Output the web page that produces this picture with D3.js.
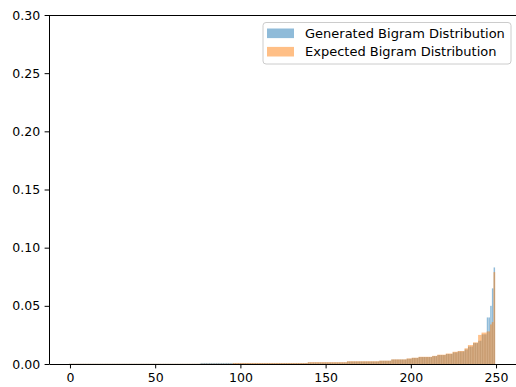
<!DOCTYPE html>
<html lang="en">
<head>
  <meta charset="UTF-8">
  <title>Bigram Distribution</title>
  <script src="https://d3js.org/d3.v7.min.js"></script>
  <style>
    body { margin: 0; background: #fff; }
    text { font-family: "DejaVu Sans", sans-serif; fill: #000; }
    .tick text { font-size: 12.5px; }
    .legend text { font-size: 13px; }
  </style>
</head>
<body>
  <svg id="chart" width="516" height="387"></svg>
  <script>
    // bar index 0..249 (sorted, so most are ~0)
    const generated = [
      0.0002, 0.0002, 0.0002, 0.0002, 0.0002, 0.0002, 0.0002, 0.0002, 0.0002, 0.0002,
      0.0002, 0.0002, 0.0002, 0.0002, 0.0002, 0.0002, 0.0002, 0.0002, 0.0002, 0.0002,
      0.0002, 0.0002, 0.0002, 0.0002, 0.0002, 0.0002, 0.0002, 0.0002, 0.0002, 0.0002,
      0.0002, 0.0002, 0.0002, 0.0002, 0.0002, 0.0002, 0.0002, 0.0002, 0.0002, 0.0002,
      0.0002, 0.0002, 0.0002, 0.0002, 0.0002, 0.0002, 0.0002, 0.0002, 0.0002, 0.0002,
      0.0002, 0.0002, 0.0002, 0.0002, 0.0002, 0.0002, 0.0002, 0.0002, 0.0002, 0.0002,
      0.0002, 0.0002, 0.0002, 0.0002, 0.0002, 0.0002, 0.0002, 0.0002, 0.0002, 0.0002,
      0.0002, 0.0002, 0.0002, 0.0002, 0.0002, 0.0002, 0.0002, 0.0009, 0.0009, 0.0009,
      0.0009, 0.0009, 0.0009, 0.0009, 0.0009, 0.0009, 0.0009, 0.0009, 0.0009, 0.0009,
      0.0009, 0.0009, 0.0009, 0.0009, 0.0009, 0.0009, 0.0008, 0.0008, 0.0008, 0.0008,
      0.0008, 0.0008, 0.0008, 0.0008, 0.0008, 0.0008, 0.0008, 0.0008, 0.0008, 0.0008,
      0.0008, 0.0008, 0.0008, 0.0008, 0.0008, 0.0008, 0.0008, 0.0008, 0.0008, 0.0008,
      0.0008, 0.0008, 0.0008, 0.0008, 0.0008, 0.0008, 0.0008, 0.0008, 0.0008, 0.0008,
      0.0008, 0.0008, 0.0008, 0.0008, 0.0008, 0.0008, 0.0008, 0.0008, 0.0008, 0.0008,
      0.0013, 0.0013, 0.0013, 0.0013, 0.0013, 0.0013, 0.0013, 0.0013, 0.0013, 0.0013,
      0.0013, 0.0013, 0.0013, 0.0013, 0.0013, 0.0013, 0.0013, 0.0013, 0.0013, 0.0013,
      0.0013, 0.0013, 0.0013, 0.0021, 0.0021, 0.0021, 0.0021, 0.0021, 0.0021, 0.0021,
      0.0021, 0.0021, 0.0021, 0.0021, 0.0021, 0.0021, 0.0021, 0.0021, 0.0021, 0.0021,
      0.0021, 0.0021, 0.0027, 0.0027, 0.0027, 0.0027, 0.0027, 0.0027, 0.0027, 0.0038,
      0.0038, 0.0038, 0.0038, 0.0038, 0.0038, 0.0038, 0.0038, 0.0038, 0.0045, 0.0045,
      0.0045, 0.0052, 0.0052, 0.0052, 0.0052, 0.0060, 0.0060, 0.0060, 0.0060, 0.0060,
      0.0060, 0.0060, 0.0060, 0.0068, 0.0068, 0.0068, 0.0077, 0.0077, 0.0077, 0.0077,
      0.0077, 0.0086, 0.0086, 0.0086, 0.0086, 0.0100, 0.0100, 0.0100, 0.0108, 0.0108,
      0.0108, 0.0108, 0.0125, 0.0125, 0.0150, 0.0150, 0.0150, 0.0180, 0.0180, 0.0180,
      0.0200, 0.0200, 0.0255, 0.0255, 0.0255, 0.0400, 0.0400, 0.0500, 0.0650, 0.0830
    ];
    const expected = [
      0.0002, 0.0002, 0.0002, 0.0002, 0.0002, 0.0002, 0.0002, 0.0002, 0.0002, 0.0002,
      0.0002, 0.0002, 0.0002, 0.0002, 0.0002, 0.0002, 0.0002, 0.0002, 0.0002, 0.0002,
      0.0002, 0.0002, 0.0002, 0.0002, 0.0002, 0.0002, 0.0002, 0.0002, 0.0002, 0.0002,
      0.0002, 0.0002, 0.0002, 0.0002, 0.0002, 0.0002, 0.0002, 0.0002, 0.0002, 0.0002,
      0.0002, 0.0002, 0.0002, 0.0002, 0.0002, 0.0002, 0.0002, 0.0002, 0.0002, 0.0002,
      0.0002, 0.0002, 0.0002, 0.0002, 0.0002, 0.0002, 0.0002, 0.0002, 0.0002, 0.0002,
      0.0002, 0.0002, 0.0002, 0.0002, 0.0002, 0.0002, 0.0002, 0.0002, 0.0002, 0.0002,
      0.0002, 0.0002, 0.0002, 0.0002, 0.0002, 0.0002, 0.0002, 0.0003, 0.0003, 0.0003,
      0.0003, 0.0003, 0.0003, 0.0003, 0.0003, 0.0003, 0.0003, 0.0003, 0.0003, 0.0003,
      0.0003, 0.0003, 0.0003, 0.0003, 0.0003, 0.0003, 0.0009, 0.0009, 0.0009, 0.0009,
      0.0009, 0.0009, 0.0009, 0.0009, 0.0009, 0.0009, 0.0009, 0.0009, 0.0009, 0.0009,
      0.0009, 0.0009, 0.0009, 0.0009, 0.0009, 0.0009, 0.0009, 0.0009, 0.0009, 0.0009,
      0.0009, 0.0009, 0.0009, 0.0009, 0.0009, 0.0009, 0.0009, 0.0009, 0.0009, 0.0009,
      0.0009, 0.0009, 0.0009, 0.0009, 0.0009, 0.0009, 0.0009, 0.0009, 0.0009, 0.0009,
      0.0016, 0.0016, 0.0016, 0.0016, 0.0016, 0.0016, 0.0016, 0.0016, 0.0016, 0.0016,
      0.0016, 0.0016, 0.0016, 0.0016, 0.0016, 0.0016, 0.0016, 0.0016, 0.0016, 0.0016,
      0.0016, 0.0016, 0.0016, 0.0024, 0.0024, 0.0024, 0.0024, 0.0024, 0.0024, 0.0024,
      0.0024, 0.0024, 0.0024, 0.0024, 0.0024, 0.0024, 0.0024, 0.0024, 0.0024, 0.0024,
      0.0024, 0.0024, 0.0029, 0.0029, 0.0029, 0.0029, 0.0029, 0.0029, 0.0029, 0.0040,
      0.0040, 0.0040, 0.0040, 0.0040, 0.0040, 0.0040, 0.0040, 0.0040, 0.0048, 0.0048,
      0.0048, 0.0054, 0.0054, 0.0054, 0.0054, 0.0062, 0.0062, 0.0062, 0.0062, 0.0062,
      0.0062, 0.0062, 0.0062, 0.0070, 0.0070, 0.0070, 0.0080, 0.0080, 0.0080, 0.0080,
      0.0080, 0.0090, 0.0090, 0.0090, 0.0090, 0.0105, 0.0105, 0.0105, 0.0112, 0.0112,
      0.0112, 0.0112, 0.0135, 0.0135, 0.0163, 0.0163, 0.0163, 0.0186, 0.0186, 0.0186,
      0.0250, 0.0250, 0.0270, 0.0270, 0.0270, 0.0280, 0.0280, 0.0340, 0.0360, 0.0790
    ];
    const seriesNames = ["Generated Bigram Distribution", "Expected Bigram Distribution"];
    const seriesColors = ["#1f77b4", "#ff7f0e"];
    const xTicks = [0, 50, 100, 150, 200, 250];
    const yTicks = [0, 0.05, 0.10, 0.15, 0.20, 0.25, 0.30];

    const svg = d3.select("#chart");
    // plot box; the right edge runs just past the picture, like the original
    const plotLeft = 49, plotTop = 15, plotRight = 517, plotBottom = 364;

    const x = d3.scaleLinear().domain([-12.3, 262.3]).range([plotLeft, plotRight]);
    const y = d3.scaleLinear().domain([0, 0.3]).range([plotBottom, plotTop]);

    const barW = x(1) - x(0);

    function drawBars(values, color, widthFrac) {
      svg.append("g")
        .selectAll("rect")
        .data(values)
        .enter().append("rect")
        .attr("x", (d, i) => x(i) - barW * widthFrac / 2)
        .attr("y", d => y(d))
        .attr("width", barW * widthFrac)
        .attr("height", d => y(0) - y(d))
        .attr("fill", color)
        .attr("fill-opacity", 0.5);
    }

    drawBars(generated, seriesColors[0], 0.85);
    drawBars(expected, seriesColors[1], 1.0);

    // axes
    const xAxis = svg.append("g")
      .attr("transform", `translate(0,${plotBottom})`)
      .call(d3.axisBottom(x).tickValues(xTicks).tickFormat(d3.format("d"))
        .tickSize(4.4).tickPadding(4.4).tickSizeOuter(0));
    const yAxis = svg.append("g")
      .attr("transform", `translate(${plotLeft},0)`)
      .call(d3.axisLeft(y).tickValues(yTicks).tickFormat(d3.format(".2f"))
        .tickSize(4.4).tickPadding(4.4).tickSizeOuter(0));
    [xAxis, yAxis].forEach(g => {
      g.selectAll("path, line").attr("stroke", "#000").attr("stroke-width", 1);
      g.selectAll("text").attr("font-family", null).attr("font-size", null);
    });

    // top spine
    svg.append("line")
      .attr("x1", plotLeft).attr("x2", plotRight)
      .attr("y1", plotTop + 0.5).attr("y2", plotTop + 0.5)
      .attr("stroke", "#000");

    // legend
    const legend = svg.append("g").attr("class", "legend");
    legend.append("rect")
      .attr("x", 263).attr("y", 22.5)
      .attr("width", 248).attr("height", 41.5)
      .attr("rx", 3)
      .attr("fill", "#fff").attr("fill-opacity", 0.8)
      .attr("stroke", "#cccccc");
    seriesNames.forEach((name, i) => {
      const cy = 33.3 + i * 18.4;
      legend.append("rect")
        .attr("x", 267).attr("y", cy - 4.8)
        .attr("width", 27).attr("height", 9.6)
        .attr("fill", seriesColors[i]).attr("fill-opacity", 0.5);
      legend.append("text")
        .attr("x", 305).attr("y", cy)
        .attr("dy", "0.36em")
        .text(name);
    });
  </script>
</body>
</html>
